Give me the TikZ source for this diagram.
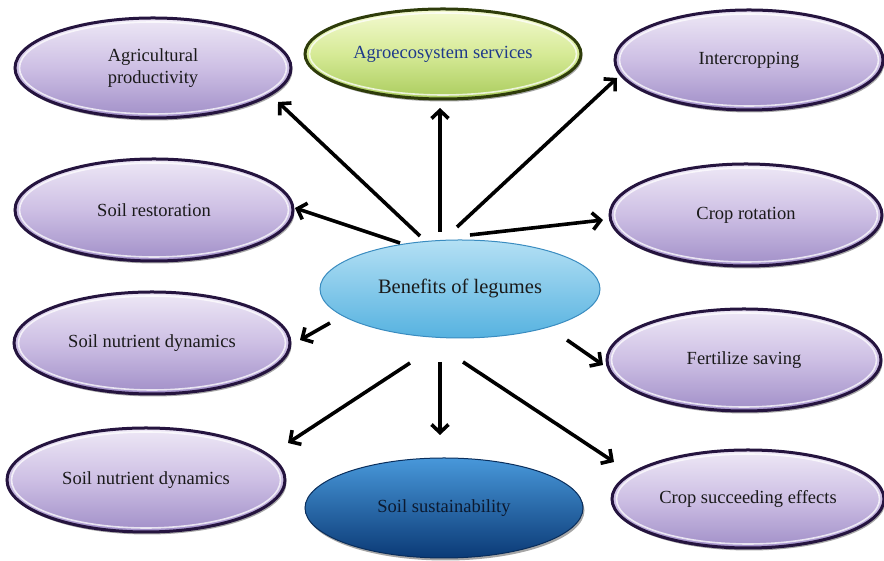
\documentclass[tikz,border=0pt]{standalone}
\usepackage{fontspec}
\setmainfont{Liberation Serif}
\usetikzlibrary{shapes.geometric,arrows.meta,shadows,calc}
\definecolor{purpTop}{HTML}{EEE8F6}
\definecolor{purpMid}{HTML}{CDBFE4}
\definecolor{purpBot}{HTML}{A18FC8}
\definecolor{purpLine}{HTML}{25143F}
\definecolor{grnTop}{HTML}{F4FAD2}
\definecolor{grnMid}{HTML}{D6EA96}
\definecolor{grnBot}{HTML}{AACC5E}
\definecolor{grnLine}{HTML}{2E3C0A}
\definecolor{grnText}{HTML}{1F3A8A}
\definecolor{cenTop}{HTML}{B4E0F4}
\definecolor{cenBot}{HTML}{56B2E0}
\definecolor{cenLine}{HTML}{3A8CC0}
\definecolor{susTop}{HTML}{4898DA}
\definecolor{susBot}{HTML}{0B3A76}
\definecolor{susLine}{HTML}{0A2E5C}
\definecolor{susText}{HTML}{0C1A30}
\definecolor{txt}{HTML}{1A1A1A}
\begin{document}
\begin{tikzpicture}[x=1pt,y=1pt,
  bub/.style={ellipse, inner sep=0pt, align=center, text=txt,
    font=\fontsize{18.5}{22.5}\selectfont},
  rim/.style={path picture={
    \draw[white, opacity=0.75, line width=1.6pt]
      let \p1=($(path picture bounding box.north east)-(path picture bounding box.center)$)
      in (path picture bounding box.center) ellipse ({\x1-4.5pt} and {\y1-4pt});}},
  purp/.style={bub, top color=purpTop, bottom color=purpBot, middle color=purpMid,
    draw=purpLine, line width=3pt, rim,
    drop shadow={shadow xshift=1.5pt, shadow yshift=-2.5pt, opacity=0.35, fill=black}},
  grn/.style={bub, top color=grnTop, bottom color=grnBot, middle color=grnMid,
    draw=grnLine, line width=3pt, text=grnText, rim,
    drop shadow={shadow xshift=1.5pt, shadow yshift=-2.5pt, opacity=0.35, fill=black}},
  cen/.style={bub, top color=cenTop, bottom color=cenBot, draw=cenLine,
    line width=1pt, font=\fontsize{20.5}{24}\selectfont},
  sus/.style={bub, top color=susTop, bottom color=susBot, draw=susLine,
    line width=1pt, text=susText,
    drop shadow={shadow xshift=1.5pt, shadow yshift=-2.5pt, opacity=0.35, fill=black}},
  arr/.style={line width=3.6pt, draw=black, -{Straight Barb[length=8pt,width=17pt]}}
]
\fill[white] (0,0) rectangle (884,561);
\useasboundingbox (0,0) rectangle (884,561);

\node[cen, minimum width=280pt, minimum height=98pt] (C) at (460,272) {Benefits of legumes};

\node[purp, minimum width=276pt, minimum height=100pt] (A) at (153,493) {Agricultural\\productivity};
\node[grn,  minimum width=276pt, minimum height=90pt]  (G) at (443,507) {Agroecosystem services};
\node[purp, minimum width=268pt, minimum height=100pt] (I) at (749,501) {Intercropping};
\node[purp, minimum width=278pt, minimum height=102pt] (R) at (154,351) {Soil restoration};
\node[purp, minimum width=272pt, minimum height=102pt] (CR) at (746,346) {Crop rotation};
\node[purp, minimum width=276pt, minimum height=102pt] (N1) at (152,218) {Soil nutrient dynamics};
\node[purp, minimum width=274pt, minimum height=102pt] (F) at (744,201) {Fertilize saving};
\node[purp, minimum width=278pt, minimum height=104pt] (N2) at (146,81) {Soil nutrient dynamics};
\node[sus,  minimum width=278pt, minimum height=100pt] (S) at (444,53) {Soil sustainability};
\node[purp, minimum width=272pt, minimum height=98pt] (CS) at (748,62) {Crop succeeding effects};

\draw[arr] ([shift={(-40,53)}]C.center) -- ([shift={(125,-34)}]A.center);
\draw[arr] ([shift={(-20,57)}]C.center) -- ([shift={(-3,-54)}]G.center);
\draw[arr] ([shift={(-3,62)}]C.center) -- ([shift={(-132,-18)}]I.center);
\draw[arr] ([shift={(-60,46)}]C.center) -- ([shift={(141,2)}]R.center);
\draw[arr] ([shift={(10,54)}]C.center) -- ([shift={(-143,-5)}]CR.center);
\draw[arr] ([shift={(-130,-34)}]C.center) -- ([shift={(148,3)}]N1.center);
\draw[arr] ([shift={(107,-51)}]C.center) -- ([shift={(-141,-5)}]F.center);
\draw[arr] ([shift={(-50,-74)}]C.center) -- ([shift={(142,37)}]N2.center);
\draw[arr] ([shift={(-20,-73)}]C.center) -- ([shift={(-4,73)}]S.center);
\draw[arr] ([shift={(3,-73)}]C.center) -- ([shift={(-134,37)}]CS.center);
\end{tikzpicture}
\end{document}
